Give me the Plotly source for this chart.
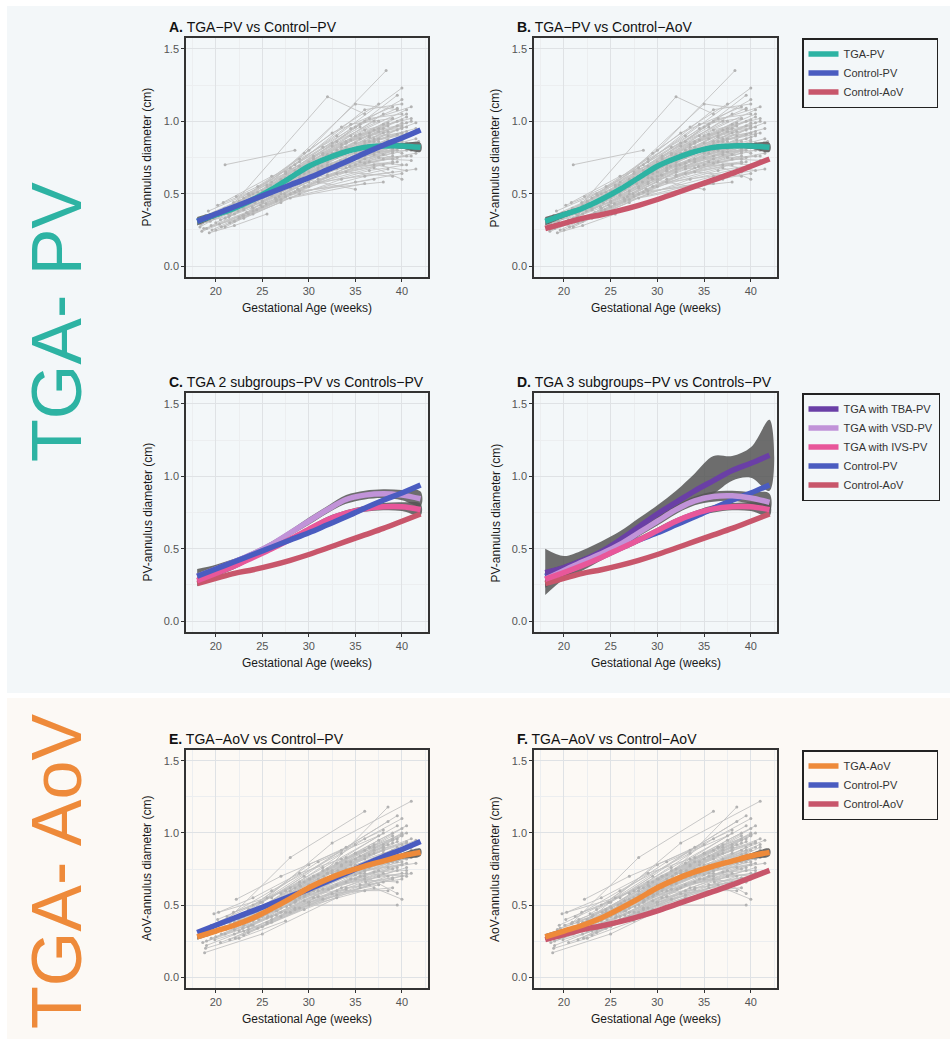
import plotly.graph_objects as go

# ---------------- data ----------------
GA = [18, 20, 22, 24, 26, 28, 30, 32, 34, 36, 38, 40, 42]

TGA_PV_FIT = [0.31, 0.355, 0.40, 0.46, 0.53, 0.61, 0.69, 0.745, 0.79, 0.82, 0.83, 0.83, 0.82]
TGA_PV_LO = [0.28, 0.335, 0.385, 0.445, 0.515, 0.595, 0.675, 0.73, 0.775, 0.805, 0.815, 0.81, 0.79]
TGA_PV_HI = [0.34, 0.375, 0.415, 0.475, 0.545, 0.625, 0.705, 0.76, 0.805, 0.835, 0.845, 0.85, 0.85]

CTRL_PV_FIT = [0.31, 0.36, 0.41, 0.46, 0.51, 0.56, 0.61, 0.665, 0.72, 0.78, 0.835, 0.885, 0.94]
CTRL_AOV_FIT = [0.26, 0.295, 0.33, 0.355, 0.385, 0.42, 0.46, 0.505, 0.55, 0.595, 0.64, 0.69, 0.74]

C_VSD_FIT = [0.31, 0.36, 0.41, 0.465, 0.53, 0.61, 0.69, 0.77, 0.84, 0.87, 0.88, 0.87, 0.845]
C_VSD_LO = [0.26, 0.33, 0.39, 0.445, 0.51, 0.59, 0.665, 0.745, 0.81, 0.84, 0.85, 0.835, 0.795]
C_VSD_HI = [0.36, 0.39, 0.43, 0.485, 0.55, 0.63, 0.715, 0.795, 0.87, 0.90, 0.91, 0.905, 0.895]
C_IVS_FIT = [0.28, 0.33, 0.38, 0.44, 0.50, 0.565, 0.635, 0.70, 0.745, 0.775, 0.79, 0.79, 0.77]
C_IVS_LO = [0.24, 0.305, 0.36, 0.425, 0.485, 0.55, 0.62, 0.68, 0.725, 0.755, 0.765, 0.76, 0.73]
C_IVS_HI = [0.32, 0.355, 0.40, 0.455, 0.515, 0.58, 0.65, 0.72, 0.765, 0.795, 0.815, 0.82, 0.81]

D_TBA_FIT = [0.335, 0.37, 0.42, 0.48, 0.56, 0.65, 0.74, 0.82, 0.90, 0.97, 1.04, 1.09, 1.145]
D_TBA_LO = [0.18, 0.29, 0.35, 0.42, 0.50, 0.60, 0.68, 0.75, 0.82, 0.88, 0.97, 0.99, 0.90]
D_TBA_HI = [0.50, 0.45, 0.49, 0.55, 0.62, 0.71, 0.80, 0.90, 1.02, 1.14, 1.14, 1.20, 1.39]
D_VSD_FIT = [0.29, 0.35, 0.41, 0.465, 0.53, 0.61, 0.69, 0.77, 0.83, 0.86, 0.865, 0.85, 0.82]
D_VSD_LO = [0.23, 0.31, 0.38, 0.44, 0.505, 0.585, 0.66, 0.74, 0.80, 0.825, 0.83, 0.81, 0.76]
D_VSD_HI = [0.35, 0.39, 0.44, 0.49, 0.555, 0.635, 0.72, 0.80, 0.86, 0.895, 0.90, 0.89, 0.88]
D_IVS_FIT = [0.29, 0.335, 0.385, 0.44, 0.50, 0.56, 0.625, 0.69, 0.74, 0.775, 0.79, 0.79, 0.77]
D_IVS_LO = [0.245, 0.305, 0.365, 0.42, 0.48, 0.54, 0.605, 0.67, 0.72, 0.75, 0.765, 0.76, 0.725]
D_IVS_HI = [0.335, 0.365, 0.405, 0.46, 0.52, 0.58, 0.645, 0.71, 0.76, 0.80, 0.815, 0.82, 0.815]

TGA_AOV_FIT = [0.28, 0.32, 0.36, 0.41, 0.475, 0.545, 0.62, 0.68, 0.73, 0.77, 0.805, 0.84, 0.865]
TGA_AOV_LO = [0.26, 0.305, 0.35, 0.40, 0.465, 0.535, 0.61, 0.67, 0.72, 0.758, 0.79, 0.82, 0.84]
TGA_AOV_HI = [0.30, 0.335, 0.37, 0.42, 0.485, 0.555, 0.63, 0.69, 0.74, 0.782, 0.82, 0.86, 0.89]

# individual patient trajectories (gestational age, diameter)
PV_TRAJ = [
    [(18.3, 0.27), (27.0, 0.58), (36.5, 0.86)],
    [(19.0, 0.31), (29.5, 0.66), (38.0, 0.92)],
    [(19.5, 0.35), (26.0, 0.52), (35.0, 0.78)],
    [(20.0, 0.30), (30.0, 0.62), (39.0, 0.80)],
    [(20.5, 0.38), (28.0, 0.60), (37.5, 0.95)],
    [(21.0, 0.70), (28.5, 0.80)],
    [(21.0, 0.33), (31.0, 0.70), (39.5, 0.88)],
    [(21.5, 0.40), (32.0, 1.17), (36.0, 1.05)],
    [(22.0, 0.42), (30.0, 0.80), (38.3, 1.35)],
    [(22.0, 0.36), (29.0, 0.57), (36.0, 0.74)],
    [(22.5, 0.45), (33.0, 0.90), (40.0, 1.23)],
    [(23.0, 0.39), (31.5, 0.72), (38.5, 0.87)],
    [(23.0, 0.47), (30.5, 0.76), (37.0, 1.00)],
    [(23.5, 0.43), (34.0, 0.85), (40.5, 0.99)],
    [(24.0, 0.50), (32.5, 0.92), (39.0, 1.10)],
    [(24.0, 0.40), (33.0, 0.64), (39.5, 0.72)],
    [(24.5, 0.48), (31.0, 0.68), (37.5, 0.81)],
    [(25.0, 0.52), (34.5, 0.95), (40.0, 1.15)],
    [(25.0, 0.45), (32.0, 0.70), (38.0, 0.77)],
    [(25.5, 0.55), (35.0, 1.12), (39.5, 1.08)],
    [(26.0, 0.50), (33.5, 0.80), (40.5, 0.93)],
    [(26.0, 0.58), (34.0, 0.86), (38.0, 0.98)],
    [(26.5, 0.46), (35.5, 0.72), (40.0, 0.70)],
    [(27.0, 0.60), (36.0, 1.00), (41.0, 1.10)],
    [(27.0, 0.52), (33.0, 0.75), (39.0, 0.84)],
    [(27.5, 0.65), (35.0, 0.90), (40.5, 1.05)],
    [(28.0, 0.55), (36.5, 0.82), (40.0, 0.78)],
    [(28.0, 0.68), (34.5, 0.98), (39.0, 1.02)],
    [(28.5, 0.62), (37.0, 0.88), (41.5, 0.99)],
    [(29.0, 0.58), (35.5, 0.78), (39.5, 0.80)],
    [(29.0, 0.72), (36.0, 1.08), (40.0, 1.12)],
    [(29.5, 0.64), (37.5, 0.93), (40.5, 0.96)],
    [(30.0, 0.70), (36.0, 0.84), (39.0, 0.74)],
    [(30.0, 0.60), (37.0, 0.70), (40.5, 0.66)],
    [(30.5, 0.75), (35.0, 0.96), (39.5, 1.09)],
    [(31.0, 0.66), (36.5, 0.80), (40.0, 0.86)],
    [(31.5, 0.78), (38.0, 1.05)],
    [(32.0, 0.63), (37.5, 0.75), (41.0, 0.76)],
    [(32.0, 0.72), (38.5, 0.90), (41.5, 0.95)],
    [(33.0, 0.80), (38.0, 0.95)],
    [(33.0, 0.67), (39.0, 0.72)],
    [(34.0, 0.74), (39.5, 0.91)],
    [(34.0, 0.85), (39.0, 1.02)],
    [(35.0, 0.70), (40.0, 0.82)],
    [(35.0, 0.79), (40.5, 0.90)],
    [(18.5, 0.24), (24.0, 0.38), (33.5, 0.60), (38.5, 0.67)],
    [(19.0, 0.26), (25.0, 0.41), (34.0, 0.65), (39.0, 0.62)],
    [(19.5, 0.28), (26.5, 0.45), (35.0, 0.58), (40.0, 0.64)],
    [(20.0, 0.25), (27.5, 0.48), (36.0, 0.62), (41.5, 0.67)],
    [(20.5, 0.32), (28.0, 0.50), (37.0, 0.60)],
    [(21.0, 0.27), (29.0, 0.52), (38.0, 0.58)],
    [(21.5, 0.30), (30.0, 0.55), (36.5, 0.66), (40.5, 0.70)],
    [(22.0, 0.31), (31.0, 0.58), (39.0, 0.65)],
    [(22.5, 0.34), (29.5, 0.60), (35.0, 0.53)],
    [(23.0, 0.33), (28.0, 0.47), (36.0, 0.57)],
    [(23.5, 0.36), (32.0, 0.62), (38.0, 0.70)],
    [(18.8, 0.33), (22.5, 0.44), (30.5, 0.74), (36.5, 0.92)],
    [(19.2, 0.38), (23.5, 0.50), (31.5, 0.82), (37.5, 1.00)],
    [(20.2, 0.42), (25.5, 0.56), (33.0, 0.86), (39.5, 1.18)],
    [(20.8, 0.44), (26.0, 0.62), (32.5, 0.78), (38.5, 0.85)],
    [(21.3, 0.36), (27.0, 0.55), (35.5, 0.88), (40.0, 0.97)],
    [(21.8, 0.39), (28.5, 0.66), (36.0, 0.94), (41.0, 1.02)],
    [(22.2, 0.48), (27.5, 0.64), (34.0, 0.82)],
    [(22.8, 0.41), (29.0, 0.69), (37.0, 0.86), (40.0, 0.92)],
    [(23.3, 0.37), (30.0, 0.65), (38.0, 0.82), (41.8, 0.86)],
    [(24.2, 0.44), (31.5, 0.74), (37.5, 0.88)],
    [(24.8, 0.42), (32.0, 0.67), (39.0, 0.76)],
    [(25.3, 0.49), (33.5, 0.77), (39.5, 0.94)],
    [(26.3, 0.54), (34.5, 0.79), (38.5, 0.83)],
    [(26.8, 0.48), (33.0, 0.69), (40.5, 0.80)],
    [(19.8, 0.33), (24.5, 0.46), (30.5, 0.69), (37.0, 0.77)],
    [(20.3, 0.35), (26.0, 0.49), (34.0, 0.74), (39.0, 0.79)],
    [(27.8, 0.57), (35.0, 0.81), (40.0, 0.89)],
    [(28.8, 0.53), (36.0, 0.71), (39.5, 0.75)],
    [(31.0, 0.58), (37.0, 0.68), (40.0, 0.60)],
    [(32.5, 0.85), (36.5, 1.02), (40.0, 1.05)],
    [(29.5, 0.78), (33.5, 0.96), (37.5, 1.12)],
    [(24.5, 0.55), (29.0, 0.74), (35.5, 0.98)],
    [(18.6, 0.30), (21.5, 0.35), (27.0, 0.50)],
    [(19.3, 0.23), (22.0, 0.28), (25.5, 0.36)],
    [(18.4, 0.29), (23.0, 0.40), (29.0, 0.61), (35.5, 0.80)],
    [(18.9, 0.35), (24.5, 0.51), (31.0, 0.72), (38.5, 0.97)],
    [(19.4, 0.31), (25.0, 0.47), (32.0, 0.69), (39.5, 0.83)],
    [(19.9, 0.37), (26.5, 0.56), (33.5, 0.84), (40.0, 1.01)],
    [(20.4, 0.29), (27.0, 0.46), (34.0, 0.68), (39.0, 0.71)],
    [(20.9, 0.40), (27.5, 0.61), (34.5, 0.90), (40.5, 1.08)],
    [(21.4, 0.34), (28.0, 0.54), (35.0, 0.75), (41.0, 0.83)],
    [(21.9, 0.44), (28.5, 0.70), (35.5, 0.96)],
    [(22.4, 0.38), (29.0, 0.63), (36.0, 0.86), (40.0, 0.99)],
    [(22.9, 0.35), (29.5, 0.55), (36.5, 0.72), (41.5, 0.78)],
    [(23.4, 0.45), (30.0, 0.72), (37.0, 0.94), (40.5, 1.03)],
    [(23.9, 0.41), (30.5, 0.63), (37.5, 0.79)],
    [(24.4, 0.39), (31.0, 0.60), (38.0, 0.74), (41.0, 0.73)],
    [(24.9, 0.50), (31.5, 0.77), (38.5, 0.99)],
    [(25.4, 0.43), (32.0, 0.65), (39.0, 0.81)],
    [(25.9, 0.56), (32.5, 0.83), (39.5, 1.00)],
    [(26.4, 0.47), (33.0, 0.71), (40.0, 0.84)],
    [(26.9, 0.55), (33.5, 0.82), (40.5, 0.91)],
    [(27.4, 0.50), (34.0, 0.72), (39.0, 0.78)],
    [(27.9, 0.62), (34.5, 0.87), (40.0, 0.95)],
    [(28.4, 0.58), (35.0, 0.85), (41.0, 0.92)],
    [(28.9, 0.65), (35.5, 0.91), (39.5, 0.97)],
    [(29.4, 0.61), (36.0, 0.76), (40.5, 0.85)],
    [(29.9, 0.67), (36.5, 0.89), (40.0, 0.92)],
    [(30.4, 0.63), (37.0, 0.79), (41.0, 0.80)],
    [(30.9, 0.71), (37.5, 0.86)],
    [(31.4, 0.69), (38.0, 0.82), (41.5, 0.88)],
    [(31.9, 0.76), (38.5, 0.93)],
    [(32.4, 0.70), (39.0, 0.86)],
    [(33.4, 0.73), (39.5, 0.84)],
    [(33.9, 0.78), (40.0, 0.96)],
    [(34.4, 0.69), (40.5, 0.76)],
    [(18.7, 0.26), (22.5, 0.33), (27.0, 0.44)],
    [(19.6, 0.25), (23.0, 0.35), (28.5, 0.51)],
    [(20.6, 0.27), (24.0, 0.36), (29.0, 0.50)],
    [(21.6, 0.37), (25.0, 0.44), (30.0, 0.58)],
    [(22.6, 0.43), (26.5, 0.53), (31.0, 0.66)],
    [(23.6, 0.49), (27.0, 0.59), (32.0, 0.77)],
    [(36.0, 0.80), (40.0, 0.87)],
    [(36.5, 0.90), (41.0, 1.00)],
]

AOV_TRAJ = [
    [(18.8, 0.17), (25.0, 0.30), (33.0, 0.55)],
    [(19.0, 0.25), (27.0, 0.45), (36.0, 0.68)],
    [(19.2, 0.30), (26.5, 0.50), (35.0, 0.75)],
    [(19.5, 0.36), (28.0, 0.62), (38.0, 0.88)],
    [(19.8, 0.44), (25.5, 0.55), (34.0, 0.80)],
    [(20.0, 0.28), (29.0, 0.55), (39.0, 0.75)],
    [(20.2, 0.40), (27.5, 0.60), (37.0, 0.92)],
    [(20.5, 0.33), (30.0, 0.62), (38.5, 1.18)],
    [(20.8, 0.37), (28.0, 0.83), (36.0, 1.15)],
    [(21.0, 0.30), (31.0, 0.66), (40.0, 0.80)],
    [(21.2, 0.42), (26.0, 0.60), (33.5, 0.86)],
    [(21.5, 0.26), (28.5, 0.48), (37.5, 0.70)],
    [(21.8, 0.35), (32.5, 0.93), (41.0, 1.22)],
    [(22.0, 0.38), (30.5, 0.70), (39.0, 0.98)],
    [(22.2, 0.54), (27.0, 0.70), (35.0, 0.92)],
    [(22.5, 0.32), (29.5, 0.56), (38.0, 0.66)],
    [(22.8, 0.44), (31.5, 0.76), (39.5, 1.05)],
    [(23.0, 0.29), (30.0, 0.50), (39.5, 0.50)],
    [(23.2, 0.40), (32.0, 0.72), (40.5, 0.85)],
    [(23.5, 0.47), (30.0, 0.78), (38.0, 1.02)],
    [(23.8, 0.36), (33.0, 0.64), (40.0, 0.72)],
    [(24.0, 0.50), (31.0, 0.80), (37.5, 0.98)],
    [(24.2, 0.42), (34.0, 0.75), (41.5, 0.95)],
    [(24.5, 0.34), (32.5, 0.58), (39.0, 0.62)],
    [(24.8, 0.52), (33.5, 0.88), (39.5, 1.12)],
    [(25.0, 0.45), (34.5, 0.80), (40.0, 0.92)],
    [(25.5, 0.38), (33.0, 0.60), (38.5, 0.60)],
    [(25.8, 0.50), (35.0, 0.86), (40.5, 1.00)],
    [(26.0, 0.55), (34.0, 0.90), (38.5, 1.08)],
    [(26.5, 0.43), (35.5, 0.72), (40.5, 0.70)],
    [(27.0, 0.58), (36.0, 0.96), (40.0, 1.10)],
    [(27.0, 0.48), (34.5, 0.68), (39.5, 0.66)],
    [(27.5, 0.53), (36.5, 0.85), (41.0, 0.96)],
    [(28.0, 0.50), (36.0, 0.70), (39.5, 0.58)],
    [(28.5, 0.62), (36.5, 0.90), (40.0, 1.03)],
    [(29.0, 0.56), (37.0, 0.80), (41.0, 0.86)],
    [(29.5, 0.66), (37.5, 0.95), (40.5, 1.05)],
    [(30.0, 0.52), (37.0, 0.62), (40.0, 0.54)],
    [(30.5, 0.70), (38.0, 0.90)],
    [(31.0, 0.60), (38.5, 0.76), (41.5, 0.79)],
    [(31.5, 0.74), (38.0, 1.00)],
    [(32.0, 0.65), (39.0, 0.82)],
    [(33.0, 0.70), (39.5, 0.90)],
    [(34.0, 0.62), (40.0, 0.68)],
    [(34.5, 0.78), (39.0, 0.95)],
    [(35.0, 0.68), (40.0, 0.78)],
    [(19.0, 0.22), (23.0, 0.32), (29.0, 0.48), (36.0, 0.60)],
    [(19.5, 0.27), (24.0, 0.36), (30.5, 0.55), (37.5, 0.64)],
    [(20.0, 0.31), (25.0, 0.42), (31.5, 0.61), (38.0, 0.72)],
    [(20.5, 0.24), (26.0, 0.38), (33.0, 0.57), (39.0, 0.68)],
    [(21.0, 0.35), (27.0, 0.50), (34.0, 0.70), (40.0, 0.84)],
    [(21.5, 0.38), (28.0, 0.57), (35.0, 0.78), (39.5, 0.86)],
    [(22.0, 0.33), (28.5, 0.52), (36.0, 0.74), (41.0, 0.88)],
    [(22.5, 0.40), (29.0, 0.64), (35.5, 0.84), (40.0, 0.98)],
    [(23.0, 0.36), (30.0, 0.58), (37.0, 0.78), (41.5, 0.85)],
    [(23.5, 0.31), (29.5, 0.47), (36.5, 0.64)],
    [(24.0, 0.39), (30.5, 0.62), (38.0, 0.80)],
    [(24.5, 0.46), (31.0, 0.68), (37.0, 0.86)],
    [(25.0, 0.35), (31.5, 0.54), (38.5, 0.70)],
    [(25.5, 0.44), (32.0, 0.66), (39.0, 0.88)],
    [(26.0, 0.40), (33.5, 0.62), (40.5, 0.76)],
    [(26.5, 0.50), (32.5, 0.74), (38.0, 0.92)],
    [(27.5, 0.45), (34.0, 0.66), (39.5, 0.80)],
    [(28.0, 0.55), (35.0, 0.76), (40.0, 0.88)],
    [(28.5, 0.47), (35.5, 0.62), (41.0, 0.72)],
    [(29.0, 0.60), (36.0, 0.82), (39.5, 0.94)],
    [(30.0, 0.64), (36.5, 0.76), (40.5, 0.82)],
    [(18.5, 0.28), (22.0, 0.37), (26.5, 0.46)],
    [(19.3, 0.33), (21.5, 0.38), (24.5, 0.47)],
    [(20.3, 0.45), (24.0, 0.55), (29.0, 0.72), (33.5, 0.82)],
    [(22.0, 0.30), (25.5, 0.37), (31.0, 0.56)],
    [(32.5, 0.72), (37.0, 0.88), (40.5, 0.93)],
    [(33.5, 0.78), (38.5, 0.92)],
    [(36.0, 0.74), (40.5, 0.79)],
    [(26.0, 0.47), (30.0, 0.62), (35.0, 0.71), (39.0, 0.80)],
    [(18.6, 0.24), (23.5, 0.35), (29.5, 0.53), (36.0, 0.72)],
    [(19.1, 0.29), (24.0, 0.40), (30.0, 0.60), (37.0, 0.80)],
    [(19.6, 0.34), (24.5, 0.45), (31.0, 0.66), (38.0, 0.90)],
    [(20.1, 0.36), (25.0, 0.49), (32.0, 0.72), (39.0, 0.96)],
    [(20.6, 0.30), (25.5, 0.41), (32.5, 0.62), (39.5, 0.74)],
    [(21.1, 0.33), (26.0, 0.46), (33.0, 0.69), (40.0, 0.88)],
    [(21.6, 0.40), (26.5, 0.53), (33.5, 0.77), (40.5, 0.94)],
    [(22.1, 0.27), (27.0, 0.42), (34.0, 0.61)],
    [(22.6, 0.37), (27.5, 0.55), (34.5, 0.74), (41.0, 0.83)],
    [(23.1, 0.43), (28.0, 0.60), (35.0, 0.82), (40.0, 1.00)],
    [(23.6, 0.39), (28.5, 0.54), (35.5, 0.70), (39.5, 0.76)],
    [(24.1, 0.45), (29.0, 0.66), (36.0, 0.88)],
    [(24.6, 0.40), (29.5, 0.58), (36.5, 0.77), (41.0, 0.90)],
    [(25.1, 0.48), (30.0, 0.68), (37.0, 0.90)],
    [(25.6, 0.42), (30.5, 0.60), (37.5, 0.74)],
    [(26.1, 0.51), (31.0, 0.71), (38.0, 0.86)],
    [(26.6, 0.46), (31.5, 0.64), (38.5, 0.79), (41.5, 0.84)],
    [(27.1, 0.53), (32.0, 0.75), (39.0, 0.93)],
    [(27.6, 0.49), (32.5, 0.68), (39.5, 0.82)],
    [(28.1, 0.57), (33.0, 0.79), (40.0, 0.98)],
    [(28.6, 0.53), (33.5, 0.70), (40.5, 0.86)],
    [(29.1, 0.63), (34.0, 0.83), (39.0, 1.00)],
    [(29.6, 0.57), (34.5, 0.72), (40.0, 0.78)],
    [(30.1, 0.68), (35.0, 0.86), (39.5, 0.96)],
    [(30.6, 0.62), (35.5, 0.78), (40.5, 0.90)],
    [(31.1, 0.66), (36.0, 0.84)],
    [(31.6, 0.70), (36.5, 0.90), (40.0, 0.99)],
    [(32.1, 0.61), (37.0, 0.73), (40.5, 0.74)],
    [(33.1, 0.74), (38.0, 0.88)],
    [(34.1, 0.71), (39.0, 0.85)],
    [(35.1, 0.76), (39.5, 0.88)],
    [(36.1, 0.66), (40.0, 0.70)],
    [(18.9, 0.20), (22.5, 0.27), (27.5, 0.39)],
    [(19.9, 0.26), (23.5, 0.33), (28.0, 0.45)],
    [(20.9, 0.38), (23.0, 0.42), (27.0, 0.54)],
    [(21.9, 0.45), (25.0, 0.52), (29.5, 0.70)],
    [(22.9, 0.34), (26.0, 0.42), (30.0, 0.52)],
    [(37.0, 0.82), (41.0, 0.92)],
    [(37.5, 0.70), (40.5, 0.72)],
    [(35.5, 0.64), (39.0, 0.69)],
]

X_TICKS = [20, 25, 30, 35, 40]
Y_TICKS = [0.0, 0.5, 1.0, 1.5]
PANEL_TITLES = ["TGA\u2212PV vs Control\u2212PV", "TGA\u2212PV vs Control\u2212AoV",
                "TGA 2 subgroups\u2212PV vs Controls\u2212PV", "TGA 3 subgroups\u2212PV vs Controls\u2212PV",
                "TGA\u2212AoV vs Control\u2212PV", "TGA\u2212AoV vs Control\u2212AoV"]
PANEL_LETTERS = ["A.", "B.", "C.", "D.", "E.", "F."]
Y_TITLES = ["PV-annulus diameter (cm)"] * 4 + ["AoV-annulus diameter (cm)"] * 2
X_TITLE = "Gestational Age (weeks)"

# ---------------- styling ----------------
W, H = 950, 1039
FONT = "Liberation Sans, Arial, Helvetica, sans-serif"
C_TEAL = "#2db3a3"
C_BLUE = "#4a5cc0"
C_RED = "#c8566b"
C_ORANGE = "#ee8a3a"
C_TBA = "#6a3fa6"
C_VSD = "#c193d8"
C_IVS = "#e8579a"
BAND = "rgba(85,85,85,0.85)"
SPAG = "#c2c2c2"
LW = 5.5
PAD = "\u2003\u2003\u2002"  # widens the short legends to the reference box width

# panel boxes in pixels: (left, right, top, bottom)
COLS = [(186, 428), (534, 777)]
ROWS = [(38, 277), (393, 632), (750, 988)]


def px(x):
    return x / W


def py(y):
    return 1 - y / H


fig = go.Figure()


def ax(i):
    return ("x" if i == 1 else f"x{i}"), ("y" if i == 1 else f"y{i}")


def spaghetti(traj, i):
    xs, ys = [], []
    for t in traj:
        for g, v in t:
            xs.append(g)
            ys.append(v)
        xs.append(None)
        ys.append(None)
    xa, ya = ax(i)
    fig.add_trace(go.Scatter(x=xs, y=ys, mode="lines+markers", xaxis=xa, yaxis=ya,
                             line=dict(color=SPAG, width=0.9),
                             marker=dict(color="#b3b3b3", size=3),
                             showlegend=False, hoverinfo="skip", connectgaps=False))


def band(lo, hi, i):
    xa, ya = ax(i)
    fig.add_trace(go.Scatter(x=GA + GA[::-1], y=hi + lo[::-1], mode="lines", fill="toself",
                             fillcolor=BAND, line=dict(width=0, shape="spline"),
                             xaxis=xa, yaxis=ya, showlegend=False, hoverinfo="skip"))


def curve(fit, i, color, name, legend=None, rank=None):
    xa, ya = ax(i)
    fig.add_trace(go.Scatter(x=GA, y=fit, mode="lines", name=name,
                             line=dict(color=color, width=LW, shape="spline"),
                             xaxis=xa, yaxis=ya, showlegend=legend is not None,
                             legend=legend if legend else "legend",
                             legendrank=rank if rank else 1000))


# Panel A
spaghetti(PV_TRAJ, 1)
band(TGA_PV_LO, TGA_PV_HI, 1)
curve(TGA_PV_FIT, 1, C_TEAL, "TGA-PV", "legend", 1)
curve(CTRL_PV_FIT, 1, C_BLUE, "Control-PV", "legend", 2)
# Panel B
spaghetti(PV_TRAJ, 2)
band(TGA_PV_LO, TGA_PV_HI, 2)
curve(CTRL_AOV_FIT, 2, C_RED, "Control-AoV" + PAD, "legend", 3)
curve(TGA_PV_FIT, 2, C_TEAL, "TGA-PV")
# Panel C
band(C_VSD_LO, C_VSD_HI, 3)
band(C_IVS_LO, C_IVS_HI, 3)
curve(CTRL_AOV_FIT, 3, C_RED, "Control-AoV")
curve(C_VSD_FIT, 3, C_VSD, "TGA with VSD-PV")
curve(C_IVS_FIT, 3, C_IVS, "TGA with IVS-PV")
curve(CTRL_PV_FIT, 3, C_BLUE, "Control-PV")
# Panel D
band(D_TBA_LO, D_TBA_HI, 4)
band(D_VSD_LO, D_VSD_HI, 4)
band(D_IVS_LO, D_IVS_HI, 4)
curve(CTRL_AOV_FIT, 4, C_RED, "Control-AoV", "legend2", 5)
curve(CTRL_PV_FIT, 4, C_BLUE, "Control-PV", "legend2", 4)
curve(D_TBA_FIT, 4, C_TBA, "TGA with TBA-PV", "legend2", 1)
curve(D_VSD_FIT, 4, C_VSD, "TGA with VSD-PV", "legend2", 2)
curve(D_IVS_FIT, 4, C_IVS, "TGA with IVS-PV", "legend2", 3)
# Panel E
spaghetti(AOV_TRAJ, 5)
band(TGA_AOV_LO, TGA_AOV_HI, 5)
curve(CTRL_PV_FIT, 5, C_BLUE, "Control-PV", "legend3", 2)
curve(TGA_AOV_FIT, 5, C_ORANGE, "TGA-AoV", "legend3", 1)
# Panel F
spaghetti(AOV_TRAJ, 6)
band(TGA_AOV_LO, TGA_AOV_HI, 6)
curve(CTRL_AOV_FIT, 6, C_RED, "Control-AoV" + PAD, "legend3", 3)
curve(TGA_AOV_FIT, 6, C_ORANGE, "TGA-AoV")

# axes
layout = {}
annotations = []
for i in range(1, 7):
    r = (i - 1) // 2
    c = (i - 1) % 2
    l, rr = COLS[c]
    t, b = ROWS[r]
    key = "" if i == 1 else str(i)
    common = dict(showline=True, mirror=True, linecolor="#333333", linewidth=1.5,
                  ticks="outside", tickcolor="#333333", ticklen=3, tickwidth=1,
                  tickfont=dict(size=11, color="#555555", family=FONT),
                  gridcolor="#dfe2e5", gridwidth=1, zeroline=False, fixedrange=True)
    layout["xaxis" + key] = dict(domain=[px(l), px(rr)], range=[16.8, 42.8], tickvals=X_TICKS,
                                 anchor="y" + key, **common)
    layout["yaxis" + key] = dict(domain=[py(b), py(t)], range=[-0.075, 1.575], tickvals=Y_TICKS,
                                 tickformat=".1f", anchor="x" + key, **common)
    layout["xaxis" + key]["minor"] = dict(showgrid=True, gridcolor="#eceef0", gridwidth=0.7,
                                          tickvals=[17.5, 22.5, 27.5, 32.5, 37.5, 42.5])
    layout["yaxis" + key]["minor"] = dict(showgrid=True, gridcolor="#eceef0", gridwidth=0.7,
                                          tickvals=[0.25, 0.75, 1.25])
    # panel title
    annotations.append(dict(x=px(l - 19), y=py(t - 11), xref="paper", yref="paper",
                            xanchor="left", yanchor="middle", showarrow=False,
                            text=f"<b>{PANEL_LETTERS[i-1]}</b> {PANEL_TITLES[i-1]}",
                            font=dict(size=14, color="#111111", family=FONT)))
    # y title
    annotations.append(dict(x=px(l - 39), y=py((t + b) / 2), xref="paper", yref="paper",
                            xanchor="center", yanchor="middle", showarrow=False, textangle=-90,
                            text=Y_TITLES[i-1], font=dict(size=12, color="#1a1a1a", family=FONT)))
    # x title
    annotations.append(dict(x=px((l + rr) / 2), y=py(b + 31), xref="paper", yref="paper",
                            xanchor="center", yanchor="middle", showarrow=False,
                            text=X_TITLE, font=dict(size=12, color="#1a1a1a", family=FONT)))

annotations.append(dict(x=px(57), y=py(322), xref="paper", yref="paper", xanchor="center",
                        yanchor="middle", showarrow=False, textangle=-90, text="TGA- PV",
                        font=dict(size=70, color=C_TEAL, family=FONT)))
annotations.append(dict(x=px(57), y=py(872), xref="paper", yref="paper", xanchor="center",
                        yanchor="middle", showarrow=False, textangle=-90, text="TGA- AoV",
                        font=dict(size=70, color=C_ORANGE, family=FONT)))

legend_style = dict(xanchor="left", yanchor="top", bgcolor="rgba(255,255,255,0)",
                    bordercolor="#222222", borderwidth=1.5,
                    font=dict(size=11, color="#333333", family=FONT), traceorder="normal")
layout["legend"] = dict(x=px(802), y=py(38), **legend_style)
layout["legend2"] = dict(x=px(802), y=py(393), **legend_style)
layout["legend3"] = dict(x=px(802), y=py(750), **legend_style)

shapes = [
    dict(type="rect", xref="paper", yref="paper", x0=px(7), x1=1, y0=py(693), y1=py(6),
         fillcolor="#f3f7f9", line=dict(width=0), layer="below"),
    dict(type="rect", xref="paper", yref="paper", x0=px(7), x1=1, y0=0, y1=py(698),
         fillcolor="#fcf9f5", line=dict(width=0), layer="below"),
]

fig.update_layout(width=W, height=H, margin=dict(l=0, r=0, t=0, b=0),
                  paper_bgcolor="white", plot_bgcolor="rgba(255,255,255,0.6)",
                  font=dict(family=FONT), annotations=annotations, shapes=shapes,
                  hovermode=False, **layout)

fig.write_html("out.html", config={"displayModeBar": False})
